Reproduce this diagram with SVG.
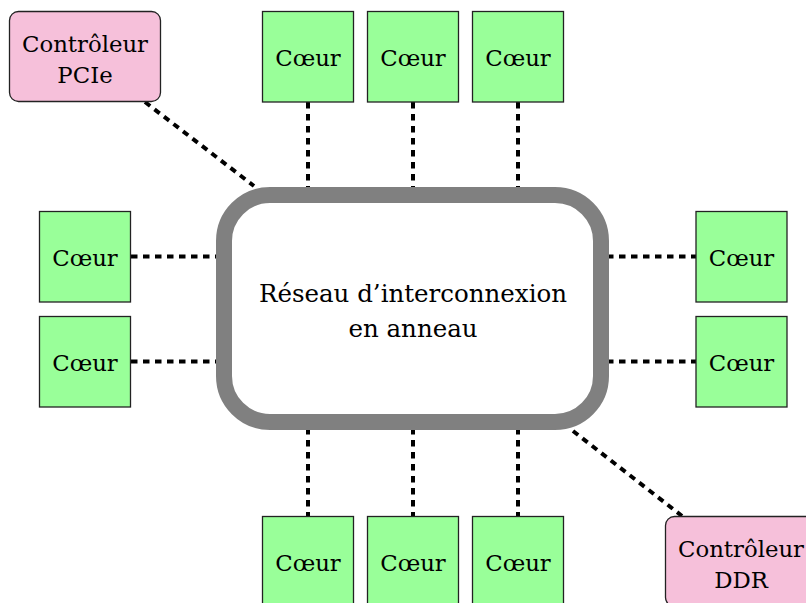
<svg xmlns="http://www.w3.org/2000/svg" width="806" height="603" viewBox="0 0 806 603">
<style>
.core{fill:#99ff99;stroke:#222;stroke-width:1.3}
.ctrl{fill:#f6c0da;stroke:#222;stroke-width:1.3}
.t{font-family:"DejaVu Serif","Liberation Serif",serif;font-size:22.8px;fill:#000;text-anchor:middle}
.big{font-family:"DejaVu Serif","Liberation Serif",serif;font-size:24.5px;fill:#000;text-anchor:middle}
.link{stroke:#000;stroke-width:4;stroke-dasharray:6.5 5.5;fill:none}
</style>
<rect width="806" height="603" fill="#fff"/>
<g id="connectors">
<line class="link" x1="308" y1="102" x2="308" y2="190"/>
<line class="link" x1="413" y1="102" x2="413" y2="190"/>
<line class="link" x1="518" y1="102" x2="518" y2="190"/>
<line class="link" x1="308" y1="428" x2="308" y2="516"/>
<line class="link" x1="413" y1="428" x2="413" y2="516"/>
<line class="link" x1="518" y1="428" x2="518" y2="516"/>
<line class="link" x1="131" y1="256.5" x2="218" y2="256.5"/>
<line class="link" x1="131" y1="361.5" x2="218" y2="361.5"/>
<line class="link" x1="607" y1="256.5" x2="696" y2="256.5"/>
<line class="link" x1="607" y1="361.5" x2="696" y2="361.5"/>
<line class="link" x1="145" y1="102" x2="254" y2="186"/>
<line class="link" x1="573" y1="431" x2="682" y2="516"/>
</g>
<g id="ring">
<rect x="224" y="195" width="377" height="227" rx="46" ry="46" fill="#fff" stroke="#808080" stroke-width="16"/>
<text class="big" x="413" y="302">Réseau d’interconnexion</text>
<text class="big" x="413" y="337">en anneau</text>
</g>
<g id="pcie"><rect class="ctrl" x="9.5" y="11.5" width="151" height="90" rx="9"/><text class="t" x="85" y="52">Contrôleur</text><text class="t" x="85" y="83">PCIe</text></g>
<g id="ddr"><rect class="ctrl" x="665.5" y="516.5" width="151" height="90" rx="9"/><text class="t" x="741" y="557">Contrôleur</text><text class="t" x="741" y="588">DDR</text></g>
<g id="core-t1"><rect class="core" x="262.5" y="11.5" width="91" height="90.5"/><text class="t" x="308" y="66">Cœur</text></g>
<g id="core-t2"><rect class="core" x="367.5" y="11.5" width="91" height="90.5"/><text class="t" x="413" y="66">Cœur</text></g>
<g id="core-t3"><rect class="core" x="472.5" y="11.5" width="91" height="90.5"/><text class="t" x="518" y="66">Cœur</text></g>
<g id="core-b1"><rect class="core" x="262.5" y="516.5" width="91" height="91"/><text class="t" x="308" y="571">Cœur</text></g>
<g id="core-b2"><rect class="core" x="367.5" y="516.5" width="91" height="91"/><text class="t" x="413" y="571">Cœur</text></g>
<g id="core-b3"><rect class="core" x="472.5" y="516.5" width="91" height="91"/><text class="t" x="518" y="571">Cœur</text></g>
<g id="core-l1"><rect class="core" x="39.5" y="211.5" width="91" height="90.5"/><text class="t" x="85" y="266">Cœur</text></g>
<g id="core-l2"><rect class="core" x="39.5" y="316.5" width="91" height="90.5"/><text class="t" x="85" y="371">Cœur</text></g>
<g id="core-r1"><rect class="core" x="696" y="211.5" width="91" height="90.5"/><text class="t" x="741.5" y="266">Cœur</text></g>
<g id="core-r2"><rect class="core" x="696" y="316.5" width="91" height="90.5"/><text class="t" x="741.5" y="371">Cœur</text></g>
</svg>
